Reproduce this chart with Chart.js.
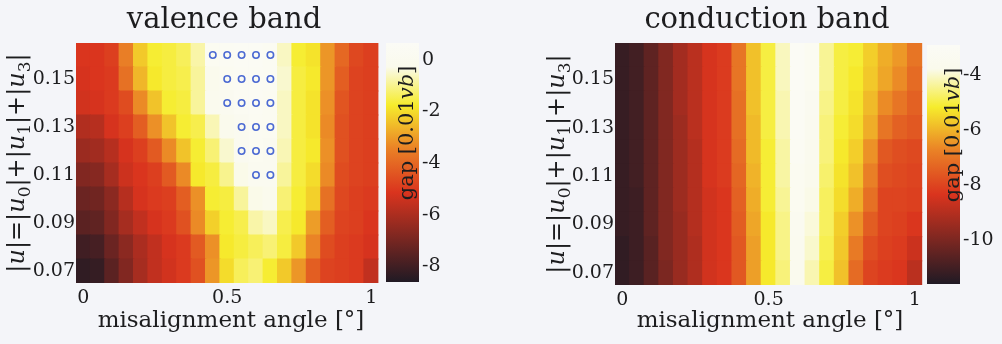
<!DOCTYPE html>
<html>
<head>
<meta charset="utf-8">
<script src="https://cdn.jsdelivr.net/npm/chart.js@4.4.1/dist/chart.umd.min.js"></script>
<style>
  body { margin: 0; background: #f4f5f9; }
  #wrap { position: relative; width: 1002px; height: 344px; overflow: hidden; }
  canvas { position: absolute; top: 0; }
</style>
</head>
<body>
<div id="wrap">
  <canvas id="valenceMap" width="384" height="344" style="left:0"></canvas>
  <canvas id="valenceBar" width="70" height="344" style="left:384px"></canvas>
  <canvas id="conductionMap" width="395" height="344" style="left:530px"></canvas>
  <canvas id="conductionBar" width="77" height="344" style="left:925px"></canvas>
</div>
<script>
// misalignment angle (deg), one column per value
const angles = [0, 0.05, 0.1, 0.15, 0.2, 0.25, 0.3, 0.35, 0.4, 0.45, 0.5, 0.55, 0.6, 0.65, 0.7, 0.75, 0.8, 0.85, 0.9, 0.95, 1];
// |u| = |u0|+|u1|+|u3|, one row per value (bottom to top)
const uValues = [0.07, 0.08, 0.09, 0.1, 0.11, 0.12, 0.13, 0.14, 0.15, 0.16];
const uTicks = [0.07, 0.09, 0.11, 0.13, 0.15];
const angleTicks = [0, 0.5, 1];

// gap [0.01 vb], rows follow uValues
const valenceGap = [
  [-8.3,-8.2,-7.5,-6.8,-6.1,-5.6,-5.3,-5.0,-4.5,-3.1,-2.0,-1.4,-1.2,-1.7,-2.3,-3.1,-4.2,-4.8,-4.9,-5.0,-5.6],
  [-8.0,-7.9,-7.2,-6.6,-6.0,-5.6,-5.2,-5.0,-4.3,-3.2,-1.8,-1.6,-1.4,-1.2,-1.6,-2.3,-3.4,-4.6,-4.9,-5.0,-5.2],
  [-7.5,-7.4,-6.8,-6.1,-5.6,-5.2,-5.0,-4.5,-3.3,-2.2,-1.7,-1.5,-0.8,-0.6,-1.5,-1.8,-3.0,-4.2,-4.8,-4.9,-5.1],
  [-7.2,-7.1,-6.6,-5.8,-5.2,-5.0,-4.9,-4.2,-3.2,-1.7,-1.6,-0.9,-0.3,-0.2,-1.2,-1.7,-2.2,-3.8,-4.7,-4.9,-5.0],
  [-6.8,-6.7,-6.1,-5.4,-5.1,-4.9,-4.3,-3.3,-1.8,-1.6,-1.0,-0.3,0.1,0.1,-0.9,-1.6,-2.0,-3.3,-4.6,-4.8,-4.9],
  [-6.3,-6.2,-5.8,-5.2,-4.9,-4.3,-3.3,-2.4,-1.7,-1.2,-0.5,0.1,0.2,0.1,-0.7,-1.6,-1.8,-3.2,-4.5,-4.8,-4.9],
  [-5.9,-5.8,-5.2,-4.9,-4.2,-3.2,-2.4,-1.7,-1.5,-0.7,-0.2,0.1,0.3,0.2,-0.6,-1.6,-1.9,-3.3,-4.5,-4.8,-4.9],
  [-5.3,-5.2,-5.0,-4.6,-3.3,-2.4,-1.7,-1.6,-0.9,-0.1,0.1,0.3,0.4,0.2,-0.6,-1.6,-1.9,-3.2,-4.4,-4.8,-4.9],
  [-5.2,-5.1,-5.0,-3.8,-2.6,-1.8,-1.6,-1.5,-0.9,-0.2,0.2,0.4,0.4,0.3,-0.5,-1.6,-1.8,-3.1,-4.2,-4.8,-4.9],
  [-5.1,-5.1,-4.9,-3.5,-2.3,-1.7,-1.6,-1.4,-0.8,0.2,0.4,0.5,0.5,0.3,-0.6,-1.7,-1.9,-3.1,-4.0,-4.7,-4.9]
];
const conductionGap = [
  [-11.3,-11.1,-10.6,-10.0,-9.5,-9.1,-8.5,-8.3,-7.6,-6.3,-5.2,-4.6,-3.6,-4.2,-5.0,-5.8,-7.2,-8.0,-8.2,-8.3,-8.9],
  [-11.3,-11.1,-10.6,-9.9,-9.5,-9.1,-8.5,-8.3,-7.6,-6.3,-5.2,-4.5,-3.5,-4.0,-4.9,-5.7,-6.9,-7.8,-8.1,-8.2,-8.6],
  [-11.2,-11.1,-10.5,-9.9,-9.5,-9.0,-8.5,-8.3,-7.5,-6.2,-5.2,-4.5,-3.4,-3.9,-4.8,-5.6,-6.5,-7.5,-8.0,-8.1,-8.3],
  [-11.2,-11.1,-10.5,-9.9,-9.4,-9.0,-8.5,-8.3,-7.4,-6.1,-5.1,-4.4,-3.3,-3.8,-4.8,-5.4,-6.1,-7.1,-8.0,-8.0,-8.1],
  [-11.2,-11.0,-10.5,-9.9,-9.4,-9.0,-8.4,-8.2,-7.3,-6.0,-5.1,-4.3,-3.3,-3.7,-4.7,-5.3,-5.8,-6.8,-7.8,-7.9,-8.0],
  [-11.2,-11.0,-10.5,-9.9,-9.4,-9.0,-8.4,-8.2,-7.2,-5.9,-5.1,-4.3,-3.2,-3.6,-4.6,-5.2,-5.6,-6.5,-7.6,-7.8,-7.9],
  [-11.2,-11.0,-10.5,-9.9,-9.4,-8.9,-8.4,-8.2,-7.1,-5.9,-5.0,-4.2,-3.1,-3.5,-4.6,-5.1,-5.4,-6.1,-7.0,-7.4,-7.6],
  [-11.2,-11.0,-10.5,-9.9,-9.3,-8.9,-8.4,-8.2,-7.1,-5.8,-5.0,-4.2,-3.1,-3.4,-4.5,-5.0,-5.3,-5.9,-6.6,-7.0,-7.4],
  [-11.2,-11.0,-10.5,-9.9,-9.3,-8.9,-8.4,-8.2,-7.0,-5.8,-5.0,-4.1,-3.0,-3.3,-4.4,-5.0,-5.2,-5.7,-6.2,-6.6,-7.2],
  [-11.2,-11.0,-10.5,-9.9,-9.3,-8.9,-8.4,-8.2,-7.0,-5.8,-5.0,-4.1,-3.0,-3.3,-4.4,-5.0,-5.1,-5.6,-6.1,-6.4,-7.0]
];

// cells marked with circles (valence band)
const markAngles = [0.45, 0.5, 0.55, 0.6, 0.65, 0.5, 0.55, 0.6, 0.65, 0.5, 0.55, 0.6, 0.65, 0.55, 0.6, 0.65, 0.55, 0.6, 0.65, 0.6, 0.65];
const markU      = [0.16, 0.16, 0.16, 0.16, 0.16, 0.15, 0.15, 0.15, 0.15, 0.14, 0.14, 0.14, 0.14, 0.13, 0.13, 0.13, 0.12, 0.12, 0.12, 0.11, 0.11];

// colour bar limits and ticks
const valenceRange = [-8.6, 0.65];
const valenceBarTicks = [-8, -6, -4, -2, 0];
const conductionRange = [-11.6, -2.9];
const conductionBarTicks = [-10, -8, -6, -4];

const FONT = '"DejaVu Serif", serif';
const TEXT = '#1d1d1f';

// scanned-looking "hot" colormap
const hotStops = [
  [0, [32, 26, 36]],
  [0.375, [218, 52, 30]],
  [0.56, [234, 130, 38]],
  [0.74, [246, 236, 44]],
  [0.9, [250, 250, 236]],
  [1, [251, 251, 246]]
];

function hot(v, range) {
  const t = Math.min(1, Math.max(0, (v - range[0]) / (range[1] - range[0])));
  for (let i = 1; i < hotStops.length; i++) {
    if (t <= hotStops[i][0]) {
      const a = hotStops[i - 1], b = hotStops[i];
      const f = (t - a[0]) / (b[0] - a[0]);
      const c = a[1].map((x, k) => Math.round(x + (b[1][k] - x) * f));
      return 'rgb(' + c.join(',') + ')';
    }
  }
  return 'rgb(' + hotStops[hotStops.length - 1][1].join(',') + ')';
}

function drawRich(ctx, parts, x, y, size, rot) {
  ctx.save();
  ctx.translate(x, y);
  ctx.rotate(rot);
  const fontOf = p => (p.i ? 'italic ' : '') + (p.sub ? Math.round(size * 0.7) : size) + 'px ' + FONT;
  let total = 0;
  parts.forEach(p => { ctx.font = fontOf(p); total += ctx.measureText(p.t).width; });
  let cx = -total / 2;
  ctx.textAlign = 'left';
  ctx.textBaseline = 'alphabetic';
  ctx.fillStyle = TEXT;
  parts.forEach(p => {
    ctx.font = fontOf(p);
    ctx.fillText(p.t, cx, size * 0.36 + (p.sub ? size * 0.25 : 0));
    cx += ctx.measureText(p.t).width;
  });
  ctx.restore();
}

const uTitle = [
  {t: '|'}, {t: 'u', i: true}, {t: '|=|'}, {t: 'u', i: true}, {t: '0', sub: true},
  {t: '|+|'}, {t: 'u', i: true}, {t: '1', sub: true}, {t: '|+|'}, {t: 'u', i: true}, {t: '3', sub: true}, {t: '|'}
];
const gapTitle = [{t: 'gap [0.01'}, {t: 'vb', i: true}, {t: ']'}];

function mapChart(id, gaps, range, opt) {
  const du = uValues[1] - uValues[0];
  const datasets = [];
  if (opt.marks) {
    datasets.push({
      type: 'scatter',
      order: -1,
      data: markAngles.map((a, i) => ({x: String(a), y: markU[i]})),
      pointStyle: 'circle',
      radius: 3.2,
      borderWidth: 1.6,
      borderColor: '#4d6bd3',
      backgroundColor: 'rgba(0,0,0,0)'
    });
  }
  uValues.forEach((u, r) => {
    datasets.push({
      type: 'bar',
      data: angles.map(() => [u - du / 2, u + du / 2]),
      backgroundColor: gaps[r].map(v => hot(v, range)),
      borderWidth: 0,
      grouped: false,
      barPercentage: 1,
      categoryPercentage: 1,
      inflateAmount: 0.6
    });
  });

  const texts = {
    id: 'texts',
    afterDraw(chart) {
      const ctx = chart.ctx;
      const a = chart.chartArea;
      ctx.save();
      ctx.fillStyle = TEXT;
      ctx.textAlign = 'center';
      ctx.textBaseline = 'alphabetic';
      ctx.font = '29px ' + FONT;
      ctx.fillText(opt.title, opt.titleX, 28);
      ctx.font = '23px ' + FONT;
      ctx.fillText('misalignment angle [°]', opt.xTitleX, 327);
      ctx.restore();
      drawRich(ctx, uTitle, opt.yTitleX, (a.top + a.bottom) / 2, 24, -Math.PI / 2);
    }
  };

  return new Chart(document.getElementById(id), {
    type: 'bar',
    data: { labels: angles.map(String), datasets: datasets },
    options: {
      responsive: false,
      animation: false,
      layout: { padding: { top: 43, right: 2, left: 0, bottom: 0 } },
      plugins: { legend: { display: false }, tooltip: { enabled: false } },
      scales: {
        x: {
          type: 'category',
          offset: true,
          grid: { display: false, drawTicks: false },
          border: { display: false },
          ticks: {
            autoSkip: false,
            maxRotation: 0,
            padding: 4,
            color: TEXT,
            font: { family: FONT, size: 19 },
            callback: (val, i) => angleTicks.includes(angles[i]) ? String(angles[i]) : ''
          },
          afterFit: s => { s.height = opt.xHeight; }
        },
        y: {
          type: 'linear',
          min: uValues[0] - du / 2,
          max: uValues[uValues.length - 1] + du / 2,
          grid: { display: false, drawTicks: false },
          border: { display: false },
          afterBuildTicks: s => { s.ticks = uTicks.map(v => ({value: v})); },
          ticks: {
            padding: 1,
            color: TEXT,
            font: { family: FONT, size: 19 },
            callback: v => v.toFixed(2)
          },
          afterFit: s => { s.width = opt.yWidth; }
        }
      }
    },
    plugins: [texts]
  });
}

function barChart(id, range, ticks, opt) {
  const label = {
    id: 'barLabel',
    afterDraw(chart) {
      const a = chart.chartArea;
      drawRich(chart.ctx, gapTitle, a.left + opt.labelDx, opt.labelY, 21, -Math.PI / 2);
    }
  };
  return new Chart(document.getElementById(id), {
    type: 'bar',
    data: {
      labels: [''],
      datasets: [{
        data: [[range[0], range[1]]],
        borderWidth: 0,
        barPercentage: 1,
        categoryPercentage: 1,
        backgroundColor: c => {
          const area = c.chart.chartArea;
          if (!area) return '#888';
          const g = c.chart.ctx.createLinearGradient(0, area.bottom, 0, area.top);
          hotStops.forEach(s => g.addColorStop(s[0], 'rgb(' + s[1].join(',') + ')'));
          return g;
        }
      }]
    },
    options: {
      responsive: false,
      animation: false,
      layout: { padding: { top: opt.top, bottom: opt.bottom, left: 2, right: 0 } },
      plugins: { legend: { display: false }, tooltip: { enabled: false } },
      scales: {
        x: { display: false },
        y: {
          position: 'right',
          min: range[0],
          max: range[1],
          grid: { display: false, drawTicks: false },
          border: { display: false },
          afterBuildTicks: s => { s.ticks = ticks.map(v => ({value: v})); },
          ticks: {
            padding: 3,
            color: TEXT,
            font: { family: FONT, size: 19 },
            callback: v => String(v)
          },
          afterFit: s => { s.width = opt.axisWidth; }
        }
      }
    },
    plugins: [label]
  });
}

mapChart('valenceMap', valenceGap, valenceRange, {
  title: 'valence band', titleX: 224, xTitleX: 231, yTitleX: 15, yWidth: 76, xHeight: 61, marks: true
});
barChart('valenceBar', valenceRange, valenceBarTicks, { top: 43, bottom: 62, axisWidth: 35, labelDx: 19, labelY: 133 });

mapChart('conductionMap', conductionGap, conductionRange, {
  title: 'conduction band', titleX: 237, xTitleX: 240, yTitleX: 25, yWidth: 85, xHeight: 59, marks: false
});
barChart('conductionBar', conductionRange, conductionBarTicks, { top: 45, bottom: 60, axisWidth: 42, labelDx: 24, labelY: 135 });
</script>
</body>
</html>
